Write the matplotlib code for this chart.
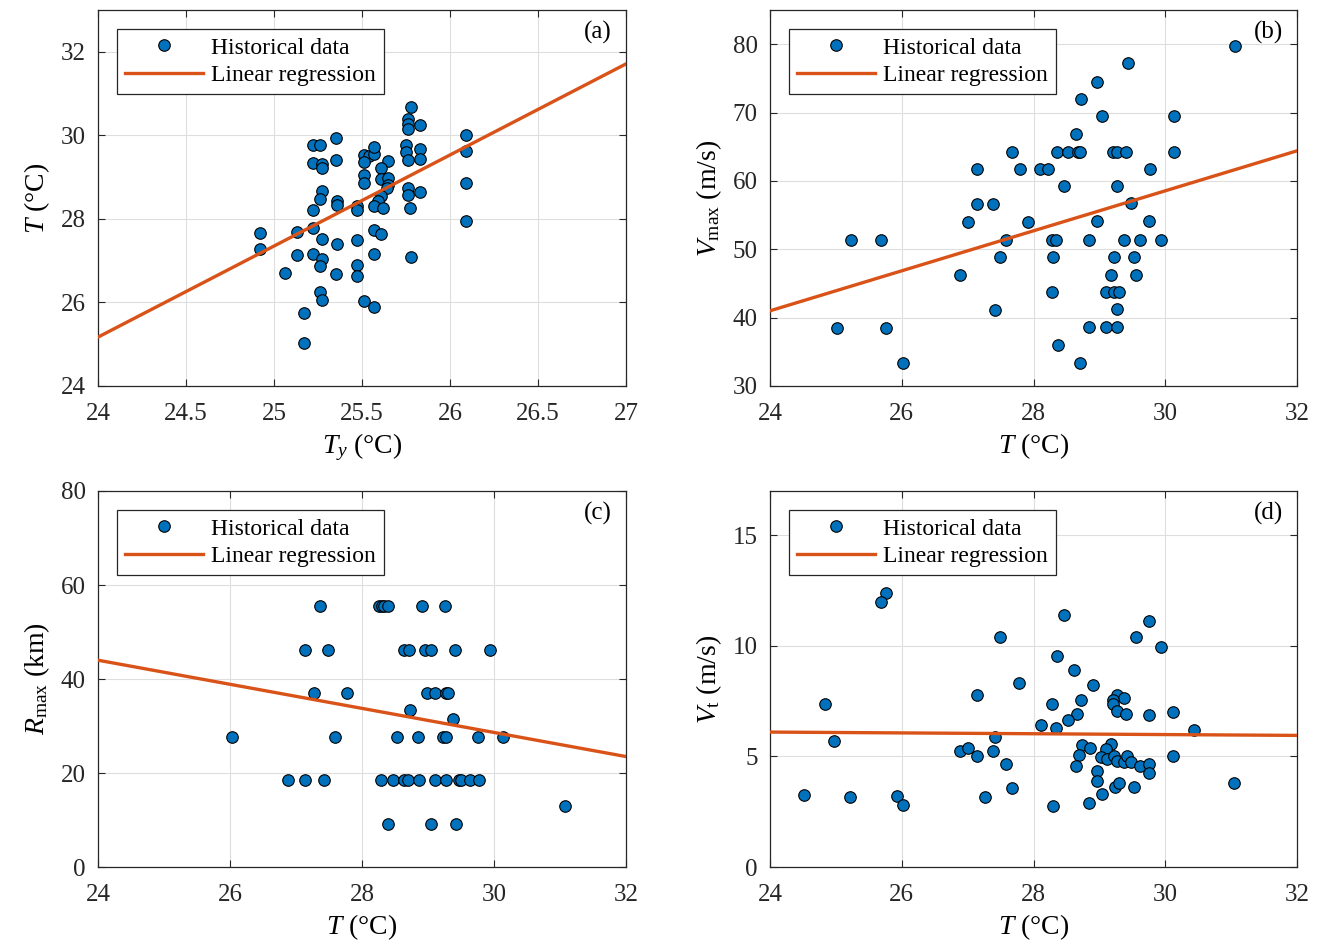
import numpy as np
import matplotlib
matplotlib.use("Agg")
import matplotlib.pyplot as plt

plt.rcParams['font.family'] = 'serif'
plt.rcParams['font.serif'] = ['Liberation Serif', 'DejaVu Serif']
plt.rcParams['mathtext.fontset'] = 'custom'
plt.rcParams['mathtext.rm'] = 'Liberation Serif'
plt.rcParams['mathtext.it'] = 'Liberation Serif:italic'

# (a) yearly mean SST Ty vs T
ty_a = [25.78, 25.76, 25.76, 25.76, 25.83, 25.35, 25.22, 25.26, 25.22, 25.27,
        25.27, 25.35, 25.51, 25.54, 25.57, 25.57, 25.51, 25.65, 25.61, 25.75,
        25.75, 25.83, 25.83, 25.76, 26.09, 26.09, 26.09, 26.09, 25.51, 25.51,
        25.61, 25.65, 25.65, 25.64, 25.61, 25.59, 25.57, 25.62, 25.76, 25.76,
        25.83, 25.77, 25.27, 25.26, 25.22, 25.36, 25.36, 25.47, 25.47, 25.22,
        25.13, 24.92, 24.92, 25.27, 25.36, 25.47, 25.57, 25.61, 25.13, 25.22,
        25.27, 25.26, 25.57, 25.78, 25.06, 25.35, 25.47, 25.47, 25.26, 25.27,
        25.51, 25.57, 25.17, 25.17]
t_a = [30.68, 30.38, 30.26, 30.14, 30.24, 29.94, 29.78, 29.78, 29.34, 29.32,
       29.22, 29.40, 29.52, 29.50, 29.56, 29.72, 29.36, 29.38, 29.22, 29.78,
       29.60, 29.68, 29.44, 29.42, 30.00, 29.62, 28.86, 27.94, 29.04, 28.86,
       28.96, 28.98, 28.80, 28.74, 28.54, 28.44, 28.32, 28.26, 28.74, 28.58,
       28.64, 28.26, 28.66, 28.48, 28.22, 28.42, 28.34, 28.30, 28.22, 27.78,
       27.68, 27.66, 27.28, 27.52, 27.40, 27.50, 27.74, 27.64, 27.14, 27.16,
       27.04, 26.88, 27.16, 27.08, 26.71, 26.68, 26.90, 26.64, 26.24, 26.06,
       26.04, 25.90, 25.74, 25.02]

# (b) T vs Vmax
t_b = [25.02, 25.23, 25.68, 25.76, 26.02, 26.88, 27.01, 27.14, 27.14, 27.38,
       27.42, 27.49, 27.59, 27.68, 27.79, 27.91, 28.10, 28.22, 28.28, 28.34,
       28.29, 28.28, 28.37, 28.36, 31.06, 29.43, 28.97, 28.72, 29.04, 30.13,
       28.64, 28.52, 28.67, 28.71, 29.20, 29.27, 29.41, 30.13, 29.77, 28.47,
       29.26, 29.48, 28.97, 29.76, 28.85, 29.38, 29.62, 29.94, 29.22, 29.53,
       29.17, 29.56, 29.10, 29.22, 29.30, 29.26, 28.85, 29.10, 29.27, 28.71]
vmax_b = [38.5, 51.4, 51.4, 38.5, 33.4, 46.2, 54.0, 61.7, 56.6, 56.6,
          41.1, 48.8, 51.4, 64.3, 61.7, 54.0, 61.7, 61.7, 51.4, 51.4,
          48.8, 43.8, 36.0, 64.3, 79.8, 77.2, 74.5, 72.0, 69.5, 69.5,
          66.9, 64.3, 64.3, 64.3, 64.3, 64.3, 64.3, 64.3, 61.7, 59.2,
          59.2, 56.7, 54.1, 54.1, 51.4, 51.4, 51.4, 51.4, 48.9, 48.9,
          46.2, 46.2, 43.8, 43.8, 43.8, 41.2, 38.6, 38.6, 38.6, 33.4]

# (c) T vs Rmax
t_c = [27.37, 28.26, 28.30, 28.34, 28.40, 28.91, 29.25,
       27.14, 27.49, 28.63, 28.71, 28.96, 29.04, 29.41, 29.94,
       27.27, 27.78, 28.98, 29.10, 29.27, 29.31,
       28.73, 29.38,
       26.03, 27.59, 28.53, 28.85, 29.22, 29.27, 29.76, 30.14,
       26.88, 27.14, 27.42, 28.29, 28.47, 28.63, 28.69, 28.86, 29.11, 29.28,
       29.47, 29.50, 29.63, 29.77,
       31.08,
       28.39, 29.04, 29.43]
rmax_c = [55.6] * 7 + [46.2] * 8 + [37.0] * 6 + [33.3, 31.5] + [27.7] * 8 \
    + [18.5] * 14 + [12.9] + [9.1] * 3

# (d) T vs Vt
t_d = [25.76, 25.68, 27.49, 24.83, 24.97, 24.51, 25.22, 25.93, 26.02, 27.14,
       27.78, 26.88, 27.01, 27.14, 27.38, 27.42, 27.59, 27.68, 27.27, 28.11,
       28.28, 28.34, 28.29, 28.36, 28.47, 29.76, 29.56, 29.93, 28.62, 28.90,
       28.72, 29.26, 29.38, 29.21, 29.21, 29.26, 29.41, 29.76, 30.12, 28.66,
       28.52, 30.43, 28.74, 28.86, 29.17, 29.10, 28.69, 29.03, 29.11, 29.22,
       29.26, 29.37, 29.42, 29.48, 29.61, 29.76, 29.76, 30.12, 28.64, 28.97,
       28.97, 29.24, 29.30, 29.52, 29.04, 28.84, 31.05]
vt_d = [12.41, 12.00, 10.41, 7.36, 5.71, 3.27, 3.16, 3.19, 2.79, 7.79,
        8.34, 5.23, 5.39, 5.00, 5.23, 5.90, 4.67, 3.57, 3.15, 6.43,
        7.36, 6.28, 2.74, 9.52, 11.38, 11.11, 10.41, 9.95, 8.91, 8.21,
        7.55, 7.76, 7.64, 7.55, 7.35, 7.06, 6.94, 6.88, 7.00, 6.94,
        6.65, 6.18, 5.50, 5.39, 5.56, 5.33, 5.08, 4.97, 4.89, 5.02,
        4.77, 4.74, 5.00, 4.74, 4.56, 4.67, 4.24, 5.03, 4.55, 4.35,
        3.88, 3.61, 3.82, 3.61, 3.30, 2.88, 3.79]

# regression lines (slope, intercept)
reg_a = (2.18, -27.15)
reg_b = (2.925, -29.2)
reg_c = (-2.5625, 105.5)
reg_d = (-0.01875, 6.55)

blue = '#0072BD'
orange = '#D95319'

fig = plt.figure(figsize=(13.26, 9.49), dpi=100)
W, H = 1326, 949


def make_ax(l, r, t, b):
    return fig.add_axes([l / W, 1 - b / H, (r - l) / W, (b - t) / H])


panels = [
    (make_ax(98, 626, 10, 386), ty_a, t_a, reg_a, (24, 27), (24, 33),
     np.arange(24, 27.01, 0.5), np.arange(24, 32.1, 2),
     r'$T_y$ (°C)', r'$T$ (°C)', '(a)'),
    (make_ax(770, 1297, 10, 386), t_b, vmax_b, reg_b, (24, 32), (30, 85),
     np.arange(24, 32.1, 2), np.arange(30, 80.1, 10),
     r'$T$ (°C)', r'$V_{\mathrm{max}}$ (m/s)', '(b)'),
    (make_ax(98, 626, 491, 867), t_c, rmax_c, reg_c, (24, 32), (0, 80),
     np.arange(24, 32.1, 2), np.arange(0, 80.1, 20),
     r'$T$ (°C)', r'$R_{\mathrm{max}}$ (km)', '(c)'),
    (make_ax(770, 1297, 491, 867), t_d, vt_d, reg_d, (24, 32), (0, 17),
     np.arange(24, 32.1, 2), np.arange(0, 15.1, 5),
     r'$T$ (°C)', r'$V_{\mathrm{t}}$ (m/s)', '(d)'),
]

for ax, xs, ys, reg, xl, yl, xt, yt, xlab, ylab, tag in panels:
    ax.grid(True, color='#dedede', linewidth=0.8, zorder=0)
    ax.set_axisbelow(True)
    xx = np.array(xl, dtype=float)
    ax.plot(xs, ys, 'o', markersize=8.3, markerfacecolor=blue,
            markeredgecolor='black', markeredgewidth=0.8,
            label='Historical data', zorder=3)
    ax.plot(xx, reg[0] * xx + reg[1], color=orange, linewidth=2.4,
            label='Linear regression', zorder=4)
    ax.set_xlim(xl)
    ax.set_ylim(yl)
    ax.set_xticks(xt)
    ax.set_yticks(yt)
    ax.set_xticklabels(['%g' % v for v in xt])
    ax.set_yticklabels(['%g' % v for v in yt])
    ax.tick_params(direction='in', top=True, right=True, length=5,
                   width=0.8, labelsize=18, colors='#262626')
    ax.tick_params(axis='x', pad=12)
    ax.tick_params(axis='y', pad=9)
    for sp in ax.spines.values():
        sp.set_color('#262626')
        sp.set_linewidth(0.9)
    ax.set_xlabel(xlab, fontsize=20, labelpad=5)
    ax.set_ylabel(ylab, fontsize=20, labelpad=6)
    ax.text(0.973, 0.94, tag, transform=ax.transAxes, ha='right',
            va='center', fontsize=18)
    leg = ax.legend(loc='upper left', fontsize=17, numpoints=1,
                    handlelength=3.3, handletextpad=0.35, labelspacing=0.25,
                    borderpad=0.35, borderaxespad=0.8, fancybox=False,
                    framealpha=1, edgecolor='#262626')
    leg.get_frame().set_linewidth(0.9)

fig.savefig('out.png', dpi=100)
